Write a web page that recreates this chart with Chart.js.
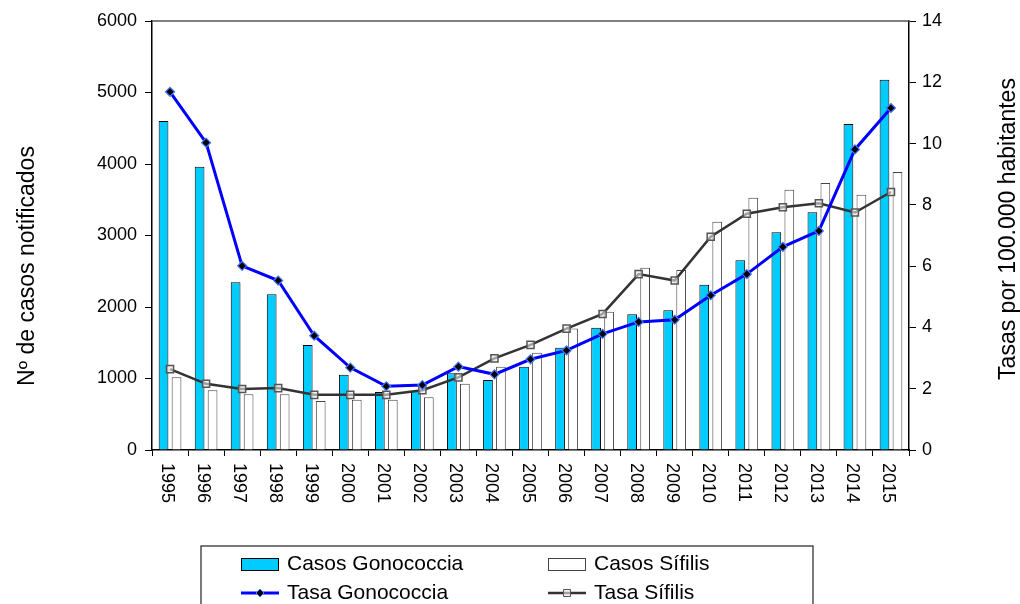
<!DOCTYPE html>
<html>
<head>
<meta charset="utf-8">
<script src="https://cdn.jsdelivr.net/npm/chart.js@4.4.1/dist/chart.umd.min.js"></script>
<style>
  html, body { margin: 0; padding: 0; background: #fff; }
  #wrap { width: 1020px; height: 604px; }
</style>
</head>
<body>
<div id="wrap"><canvas id="chart" width="1020" height="604"></canvas></div>
<script>
// --- Data ---
const years = ['1995', '1996', '1997', '1998', '1999', '2000', '2001', '2002', '2003', '2004', '2005',
    '2006', '2007', '2008', '2009', '2010', '2011', '2012', '2013', '2014', '2015'];
const casosGonococcia = [4600, 3960, 2345, 2177, 1468, 1053, 811, 830, 1072, 979, 1165,
    1431, 1711, 1898, 1954, 2312, 2653, 3044, 3324, 4559, 5179];
const casosSifilis = [1016, 835, 779, 779, 685, 704, 704, 737, 928, 1165, 1361,
    1700, 1935, 2550, 2517, 3193, 3529, 3641, 3734, 3571, 3888];
const tasaGonococcia = [11.69, 10.03, 6.01, 5.53, 3.73, 2.69, 2.08, 2.12, 2.72, 2.47, 2.96,
    3.25, 3.79, 4.18, 4.25, 5.05, 5.74, 6.63, 7.15, 9.81, 11.16];
const tasaSifilis = [2.64, 2.16, 1.99, 2.02, 1.80, 1.80, 1.80, 1.95, 2.37, 2.99, 3.43,
    3.96, 4.44, 5.74, 5.53, 6.96, 7.71, 7.92, 8.05, 7.75, 8.42];
const leftTicks = [0, 1000, 2000, 3000, 4000, 5000, 6000];
const rightTicks = [0, 2, 4, 6, 8, 10, 12, 14];

const FONT = '"Liberation Sans", Arial, sans-serif';
const CYAN = '#00CCFF';
const BLUE = '#0000FF';
const GREY = '#333333';

// --- Extra drawing: x labels, axis titles, plot border, legend ---
const overlay = {
    id: 'overlay',
    afterDraw(chart) {
        const ctx = chart.ctx;
        const area = chart.chartArea;
        const xScale = chart.scales.x;
        ctx.save();

        // top border of the plot area
        ctx.strokeStyle = '#555';
        ctx.lineWidth = 1.5;
        ctx.beginPath();
        ctx.moveTo(area.left, area.top);
        ctx.lineTo(area.right, area.top);
        ctx.stroke();

        // year labels, reading top to bottom
        ctx.fillStyle = '#000';
        ctx.font = '18px ' + FONT;
        ctx.textAlign = 'left';
        ctx.textBaseline = 'middle';
        years.forEach((yr, i) => {
            ctx.save();
            ctx.translate(xScale.getPixelForValue(i) - 3, area.bottom + 13);
            ctx.rotate(Math.PI / 2);
            ctx.fillText(yr, 0, 0);
            ctx.restore();
        });

        // axis titles
        ctx.font = '23px ' + FONT;
        ctx.textAlign = 'center';
        ctx.save();
        ctx.translate(28, 266);
        ctx.rotate(-Math.PI / 2);
        ctx.fillText('Nº de casos notificados', 0, 0);
        ctx.restore();
        ctx.save();
        ctx.translate(1009, 229);
        ctx.rotate(-Math.PI / 2);
        ctx.fillText('Tasas por 100.000 habitantes', 0, 0);
        ctx.restore();

        // legend box
        ctx.strokeStyle = '#222';
        ctx.lineWidth = 1.2;
        ctx.strokeRect(201, 546, 612, 80);

        const ds = chart.data.datasets;
        const rows = [564, 593];
        const cols = [241, 548];
        // bars
        [ds[2], ds[3]].forEach((d, i) => {
            ctx.fillStyle = d.backgroundColor;
            ctx.fillRect(cols[i], rows[0] - 6, 37, 12);
            ctx.strokeStyle = d.borderColor;
            ctx.lineWidth = 1;
            ctx.strokeRect(cols[i] + 0.5, rows[0] - 5.5, 37, 12);
        });
        // lines
        [ds[0], ds[1]].forEach((d, i) => {
            ctx.strokeStyle = d.borderColor;
            ctx.lineWidth = d.borderWidth;
            ctx.beginPath();
            ctx.moveTo(cols[i], rows[1]);
            ctx.lineTo(cols[i] + 38, rows[1]);
            ctx.stroke();
            const cx = cols[i] + 19;
            ctx.fillStyle = d.pointBackgroundColor;
            ctx.strokeStyle = d.pointBorderColor;
            ctx.lineWidth = 1;
            ctx.beginPath();
            if (d.pointStyle === 'rectRot') {
                ctx.moveTo(cx, rows[1] - 4);
                ctx.lineTo(cx + 4, rows[1]);
                ctx.lineTo(cx, rows[1] + 4);
                ctx.lineTo(cx - 4, rows[1]);
                ctx.closePath();
            } else {
                ctx.rect(cx - 3.5, rows[1] - 3.5, 7, 7);
            }
            ctx.fill();
            ctx.stroke();
        });
        // texts
        ctx.fillStyle = '#000';
        ctx.font = '21px ' + FONT;
        ctx.textAlign = 'left';
        ctx.textBaseline = 'middle';
        ctx.fillText(ds[2].label, 287, rows[0]);
        ctx.fillText(ds[3].label, 594, rows[0]);
        ctx.fillText(ds[0].label, 287, rows[1]);
        ctx.fillText(ds[1].label, 594, rows[1]);

        ctx.restore();
    }
};

// --- Chart ---
const ctx = document.getElementById('chart');
new Chart(ctx, {
    data: {
        labels: years,
        datasets: [
            {
                type: 'line',
                label: 'Tasa Gonococcia',
                data: tasaGonococcia,
                yAxisID: 'y1',
                order: 0,
                borderColor: BLUE,
                borderWidth: 3,
                pointStyle: 'rectRot',
                pointRadius: 4.5,
                pointBackgroundColor: '#000',
                pointBorderColor: '#4477FF',
                pointBorderWidth: 1.2,
                tension: 0
            },
            {
                type: 'line',
                label: 'Tasa Sífilis',
                data: tasaSifilis,
                yAxisID: 'y1',
                order: 1,
                borderColor: GREY,
                borderWidth: 2.5,
                pointStyle: 'rect',
                pointRadius: 5,
                pointBackgroundColor: 'rgba(235,235,235,0.6)',
                pointBorderColor: '#555',
                pointBorderWidth: 1.5,
                tension: 0
            },
            {
                type: 'bar',
                label: 'Casos Gonococcia',
                data: casosGonococcia,
                yAxisID: 'y',
                order: 2,
                backgroundColor: CYAN,
                borderColor: '#000',
                borderWidth: 1,
                categoryPercentage: 0.72,
                barPercentage: 0.75
            },
            {
                type: 'bar',
                label: 'Casos Sífilis',
                data: casosSifilis,
                yAxisID: 'y',
                order: 3,
                backgroundColor: '#FFFFFF',
                borderColor: '#444',
                borderWidth: 1,
                categoryPercentage: 0.72,
                barPercentage: 0.75
            }
        ]
    },
    options: {
        responsive: false,
        animation: false,
        layout: { padding: { left: 0, right: 0, top: 21, bottom: 94 } },
        plugins: {
            legend: { display: false },
            tooltip: { enabled: false }
        },
        scales: {
            x: {
                type: 'category',
                grid: { display: true, drawOnChartArea: false, drawTicks: true, tickLength: 6, color: '#000', offset: true },
                border: { color: '#000', width: 1.5 },
                ticks: { display: false },
                afterFit: (s) => { s.height = 60; }
            },
            y: {
                position: 'left',
                min: 0,
                max: 6000,
                afterBuildTicks: (s) => { s.ticks = leftTicks.map(v => ({ value: v })); },
                grid: { drawOnChartArea: false, drawTicks: true, tickLength: 7, color: '#000' },
                border: { color: '#000', width: 1.5 },
                ticks: { color: '#000', font: { size: 18, family: FONT }, padding: 8, callback: (v) => String(v) },
                afterFit: (s) => { s.width = 152; }
            },
            y1: {
                position: 'right',
                min: 0,
                max: 14,
                afterBuildTicks: (s) => { s.ticks = rightTicks.map(v => ({ value: v })); },
                grid: { drawOnChartArea: false, drawTicks: true, tickLength: 7, color: '#000' },
                border: { color: '#000', width: 1.5 },
                ticks: { color: '#000', font: { size: 18, family: FONT }, padding: 6, callback: (v) => String(v) },
                afterFit: (s) => { s.width = 111; }
            }
        }
    },
    plugins: [overlay]
});
</script>
</body>
</html>
